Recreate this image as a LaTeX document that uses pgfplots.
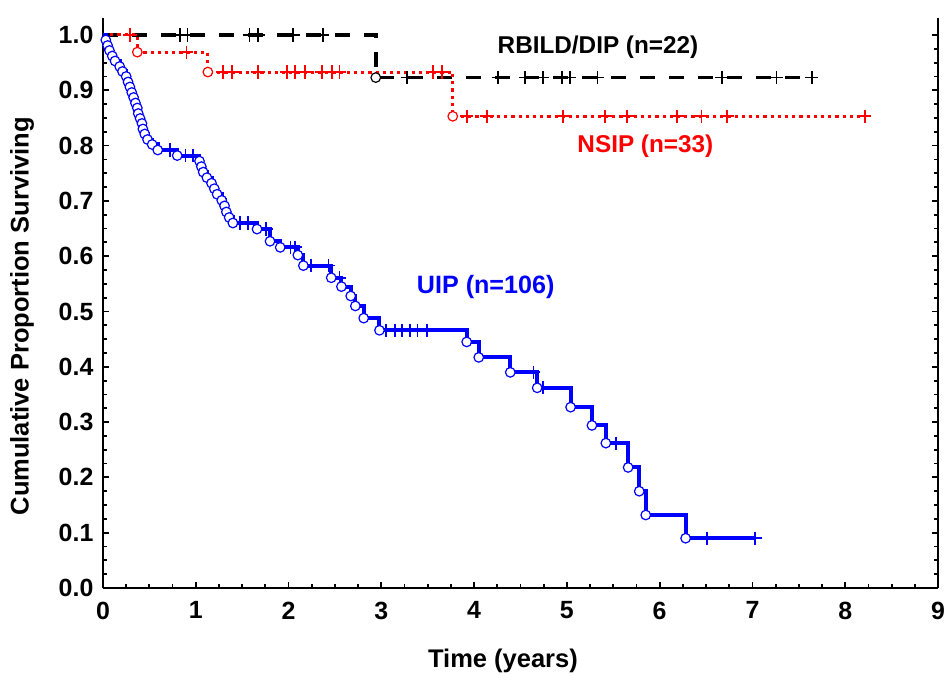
\documentclass[border=0pt]{standalone}
\usepackage{pgfplots}
\pgfplotsset{compat=1.18}
\usepackage{fontspec}
\setmainfont{Liberation Sans}
\definecolor{kmred}{RGB}{255,0,0}
\definecolor{kmblue}{RGB}{0,0,255}
\begin{document}
\begin{tikzpicture}
\path[use as bounding box] (-51.5bp,-44.5bp) rectangle (422bp,294bp);
\begin{axis}[
  scale only axis, width=417.5bp, height=284.8bp,
  xmin=0, xmax=9, ymin=0, ymax=1.03,
  axis x line*=bottom, axis y line*=box,
  axis line style={line width=1.1bp, black},
  xtick={0,1,...,9}, ytick={0,0.1,...,1.0},
  minor x tick num=3, minor y tick num=3,
  ytick pos=both,
  tick align=inside,
  major tick length=3.2bp, minor tick length=2bp,
  tick style={line width=0.9bp, black},
  /pgf/number format/assume math mode=true,
  yticklabel style={/pgf/number format/fixed, /pgf/number format/fixed zerofill, /pgf/number format/precision=1, xshift=-1.3bp},
  xticklabel style={yshift=-3.3bp},
  tick label style={font=\bfseries\fontsize{12.5}{15}\selectfont},
  xlabel={Time (years)},
  ylabel={Cumulative Proportion Surviving},
  label style={font=\bfseries\fontsize{12.8}{15}\selectfont},
  xlabel style={at={(axis description cs:0.479,-0.140)}, anchor=base},
  ylabel style={at={(axis description cs:-0.097,0.477)}, anchor=center},
]
% RBILD/DIP
\addplot[const plot, black, line width=1.8bp, dash pattern=on 7.5bp off 7bp] coordinates {(0,1) (2.94,0.923) (7.64,0.923)};
\addplot[only marks, mark=+, mark size=3.3bp, mark options={solid, black, line width=0.9bp}] coordinates {
(0.83,1) (0.91,1) (1.58,1) (1.67,1) (2.05,1) (2.37,1)
(3.28,0.923) (4.26,0.923) (4.55,0.923) (4.74,0.923) (4.95,0.923) (5.03,0.923) (5.33,0.923) (6.67,0.923) (7.26,0.923) (7.64,0.923)};
\addplot[only marks, mark=*, mark size=2.4bp, mark options={solid, draw=black, fill=white, line width=0.6bp}] coordinates {(2.94,0.923)};
% NSIP
\addplot[const plot, kmred, line width=1.5bp, dash pattern=on 1.6bp off 2bp] coordinates {(0,1) (0.37,0.969) (1.13,0.933) (3.77,0.853) (8.21,0.853)};
\addplot[only marks, mark=+, mark size=3.3bp, mark options={solid, kmred, line width=0.9bp}] coordinates {
(0.29,1) (0.90,0.969)
(1.29,0.933) (1.39,0.933) (1.67,0.933) (1.98,0.933) (2.07,0.933) (2.18,0.933) (2.36,0.933) (2.47,0.933) (2.55,0.933) (3.56,0.933) (3.65,0.933)
(3.92,0.853) (4.14,0.853) (4.96,0.853) (5.41,0.853) (5.65,0.853) (6.19,0.853) (6.45,0.853) (6.73,0.853) (8.21,0.853)};
\addplot[only marks, mark=*, mark size=2.4bp, mark options={solid, draw=kmred, fill=white, line width=0.6bp}] coordinates {(0.37,0.969) (1.13,0.933) (3.77,0.853)};
% UIP
\addplot[const plot, kmblue, line width=2bp] coordinates {
(0,1.000) (0.03,0.991) (0.05,0.981) (0.07,0.972) (0.10,0.962) (0.13,0.953) (0.18,0.943) (0.21,0.934) (0.25,0.925) (0.27,0.915) (0.29,0.906) (0.31,0.896) (0.33,0.887) (0.35,0.877) (0.37,0.868) (0.38,0.858) (0.40,0.849) (0.42,0.840) (0.43,0.830) (0.45,0.821) (0.48,0.811) (0.53,0.802) (0.59,0.792) (0.80,0.782) (1.04,0.772) (1.06,0.762) (1.08,0.752) (1.12,0.742) (1.17,0.732) (1.20,0.722) (1.23,0.712) (1.28,0.701) (1.31,0.691) (1.33,0.680) (1.36,0.670) (1.40,0.660) (1.66,0.649) (1.80,0.627) (1.91,0.616) (2.10,0.602) (2.16,0.583) (2.46,0.561) (2.57,0.545) (2.67,0.528) (2.72,0.510) (2.81,0.488) (2.98,0.466) (3.92,0.445) (4.05,0.417) (4.39,0.390) (4.68,0.362) (5.04,0.327) (5.27,0.294) (5.42,0.262) (5.66,0.218) (5.78,0.175) (5.85,0.132) (6.28,0.090) (7.03,0.090)};
\addplot[only marks, mark=+, mark size=3.3bp, mark options={solid, kmblue, line width=0.9bp}] coordinates {
(0.72,0.792) (0.89,0.782) (0.97,0.782) (1.48,0.660) (1.56,0.660) (1.76,0.649) (2.02,0.616) (2.07,0.616) (2.24,0.583) (2.43,0.583) (2.55,0.561)
(3.05,0.466) (3.15,0.466) (3.22,0.466) (3.31,0.466) (3.39,0.466) (3.49,0.466) (4.64,0.390) (4.74,0.362) (5.53,0.262) (6.51,0.090) (7.03,0.090)};
\addplot[only marks, mark=*, mark size=2.4bp, mark options={solid, draw=kmblue, fill=white, line width=0.6bp}] coordinates {
(0.03,0.991) (0.05,0.981) (0.07,0.972) (0.10,0.962) (0.13,0.953) (0.18,0.943) (0.21,0.934) (0.25,0.925) (0.27,0.915) (0.29,0.906) (0.31,0.896) (0.33,0.887) (0.35,0.877) (0.37,0.868) (0.38,0.858) (0.40,0.849) (0.42,0.840) (0.43,0.830) (0.45,0.821) (0.48,0.811) (0.53,0.802) (0.59,0.792) (0.80,0.782) (1.04,0.772) (1.06,0.762) (1.08,0.752) (1.12,0.742) (1.17,0.732) (1.20,0.722) (1.23,0.712) (1.28,0.701) (1.31,0.691) (1.33,0.680) (1.36,0.670) (1.40,0.660) (1.66,0.649) (1.80,0.627) (1.91,0.616) (2.10,0.602) (2.16,0.583) (2.46,0.561) (2.57,0.545) (2.67,0.528) (2.72,0.510) (2.81,0.488) (2.98,0.466) (3.92,0.445) (4.05,0.417) (4.39,0.390) (4.68,0.362) (5.04,0.327) (5.27,0.294) (5.42,0.262) (5.66,0.218) (5.78,0.175) (5.85,0.132) (6.28,0.090)};
% labels
\node[anchor=base west, inner sep=0pt, font=\bfseries\fontsize{12.2}{14}\selectfont, text=black] at (axis cs:4.25,0.967) {RBILD/DIP (n=22)};
\node[anchor=base west, inner sep=0pt, font=\bfseries\fontsize{12.2}{14}\selectfont, text=kmred] at (axis cs:5.11,0.787) {NSIP (n=33)};
\node[anchor=base west, inner sep=0pt, font=\bfseries\fontsize{12.6}{14}\selectfont, text=kmblue] at (axis cs:3.38,0.532) {UIP (n=106)};
\end{axis}
\end{tikzpicture}
\end{document}
